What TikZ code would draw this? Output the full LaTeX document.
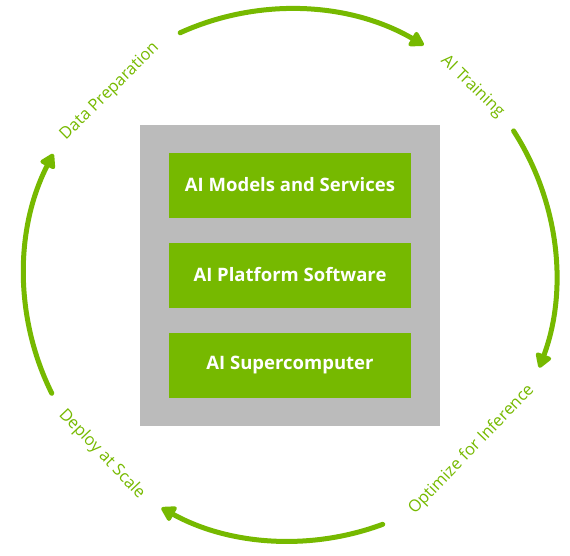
\documentclass[tikz,border=0pt]{standalone}
\usepackage{fontspec}
\setmainfont{Open Sans}
\usetikzlibrary{arrows.meta}
\definecolor{nvgreen}{HTML}{76B900}
\definecolor{stackgray}{HTML}{BBBBBB}
\tikzset{every picture/.style={line width=0.75pt}}

\begin{document}
\begin{tikzpicture}[x=1pt, y=1pt,
    layer/.style={fill=nvgreen, text=white, font=\fontsize{18.5}{21}\selectfont\bfseries,
      minimum width=242pt, minimum height=65pt, inner sep=0pt},
    stage/.style={text=nvgreen, font=\fontsize{16.5}{19}\selectfont, inner sep=0pt},
    cycle/.style={draw=nvgreen, line width=5pt, line cap=round,
      -{Triangle[length=16pt, width=18pt, round]}}]
        \useasboundingbox (-290, -280) rectangle (280, 275);
        \node[fill=stackgray, minimum width=300pt, minimum height=301pt, inner sep=0pt] (stack) at (0, 0) {};
        \node[layer] (models)   at (0, 90)  {AI Models and Services};
        \node[layer] (platform) at (0, 0)   {AI Platform Software};
        \node[layer] (super)    at (0, -90) {AI Supercomputer};
        % stages round the loop
        \node[stage, rotate=44.5]  (prep)   at (134.5:257pt)  {Data Preparation};
        \node[stage, rotate=-44.1] (train)  at (45.9:262pt)   {AI Training};
        \node[stage, rotate=46.1]  (infer)  at (-43.9:252pt)  {Optimize for Inference};
        \node[stage, rotate=-46.4] (deploy) at (-136.4:260pt) {Deploy at Scale};
        % arcs between the stages
        \coordinate (prep-out)   at (114.4:266pt);
        \coordinate (train-out)  at (32.8:266pt);
        \coordinate (infer-out)  at (-69.6:266pt);
        \coordinate (deploy-out) at (-153.6:266pt);
        \draw[cycle] (prep-out)   arc[start angle=114.4,  end angle=59.8,   radius=266pt];
        \draw[cycle] (train-out)  arc[start angle=32.8,   end angle=-20.4,  radius=266pt];
        \draw[cycle] (infer-out)  arc[start angle=-69.6,  end angle=-118.9, radius=266pt];
        \draw[cycle] (deploy-out) arc[start angle=206.4,  end angle=152.9,  radius=266pt];
    \end{tikzpicture}
\end{document}
